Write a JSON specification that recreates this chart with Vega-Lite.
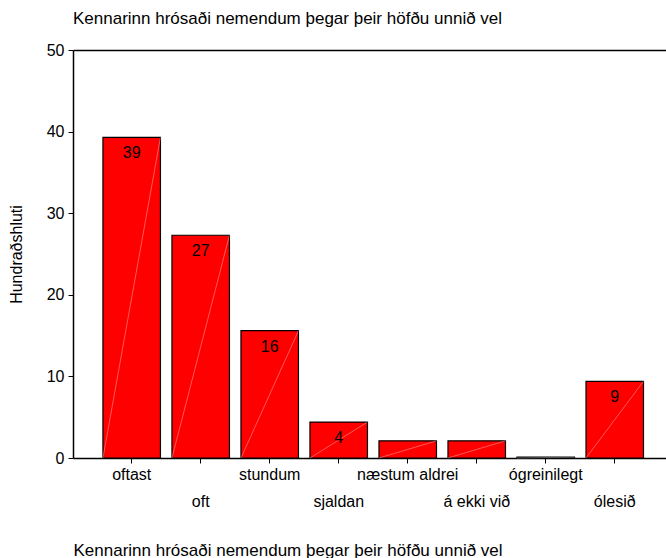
{
  "$schema": "https://vega.github.io/schema/vega-lite/v6.json",
  "autosize": "none",
  "padding": {"left": 73, "top": 50, "right": 0, "bottom": 100},
  "width": 593,
  "height": 408,
  "background": "white",
  "config": {
    "view": {"stroke": null},
    "font": "Liberation Sans",
    "axis": {"labelFont": "Liberation Sans", "titleFont": "Liberation Sans", "labelColor": "black", "titleColor": "black", "domainColor": "black", "tickColor": "black", "grid": false}
  },
  "title": {
    "text": "Kennarinn hrósaði nemendum þegar þeir höfðu unnið vel",
    "anchor": "start",
    "frame": "group",
    "fontSize": 17,
    "fontWeight": "normal",
    "font": "Liberation Sans",
    "color": "black",
    "offset": 14
  },
  "data": {
    "values": [
      {"svar": "oftast", "pct": 39.3},
      {"svar": "oft", "pct": 27.3},
      {"svar": "stundum", "pct": 15.6},
      {"svar": "sjaldan", "pct": 4.4},
      {"svar": "næstum aldrei", "pct": 2.1},
      {"svar": "á ekki við", "pct": 2.1},
      {"svar": "ógreinilegt", "pct": 0.1},
      {"svar": "ólesið", "pct": 9.4}
    ]
  },
  "encoding": {
    "y": {
      "field": "pct",
      "type": "quantitative",
      "scale": {"domain": [0, 50], "nice": false},
      "axis": {
        "title": "Hundraðshluti",
        "titleFontSize": 16,
        "titleFontWeight": "normal",
        "titleX": -49,
        "titleY": 204,
        "titleAngle": -90,
        "titleBaseline": "bottom",
        "values": [0, 10, 20, 30, 40, 50],
        "labelFontSize": 16,
        "labelPadding": 4,
        "tickSize": 5,
        "domainWidth": 1.5
      }
    }
  },
  "layer": [
    {
      "mark": {"type": "bar", "color": "#ff0000", "stroke": "black", "strokeWidth": 1.2},
      "encoding": {
        "x": {
          "field": "svar",
          "type": "nominal",
          "sort": null,
          "scale": {"paddingInner": 0.1667, "paddingOuter": 0.38, "align": 0.571},
          "axis": {
            "title": "Kennarinn hrósaði nemendum þegar þeir höfðu unnið vel",
            "titleFontSize": 17,
            "titleFontWeight": "normal",
            "titleAnchor": "start",
            "titleAlign": "left",
            "titleBaseline": "alphabetic",
            "titleX": 0,
            "titleY": 97,
            "labelAngle": 0,
            "labelFontSize": 16,
            "labelPadding": 3,
            "labelLineHeight": 27,
            "labelOverlap": false,
            "labelBound": false,
            "labelFlush": false,
            "labelExpr": "indexof(['oft','sjaldan','á ekki við','ólesið'], datum.value) >= 0 ? ['', datum.label] : datum.label",
            "tickSize": 5,
            "domainWidth": 1.5
          }
        }
      }
    },
    {
      "mark": {"type": "rule", "color": "white", "strokeWidth": 0.7, "opacity": 0.5},
      "encoding": {
        "x": {"field": "svar", "type": "nominal", "sort": null, "bandPosition": 0, "axis": null},
        "x2": {"field": "svar", "bandPosition": 1},
        "y": {"datum": 0},
        "y2": {"field": "pct"}
      }
    },
    {
      "transform": [{"filter": "datum.pct >= 3"}],
      "mark": {"type": "text", "fontSize": 16, "color": "black", "baseline": "middle", "dy": 16, "font": "Liberation Sans"},
      "encoding": {
        "x": {
          "field": "svar",
          "type": "nominal",
          "sort": null,
          "axis": {"orient": "top", "labels": false, "ticks": false, "title": null, "domain": true, "domainWidth": 1.5}
        },
        "text": {"field": "pct", "type": "quantitative", "format": ".0f"}
      }
    }
  ],
  "resolve": {"axis": {"x": "independent"}}
}
